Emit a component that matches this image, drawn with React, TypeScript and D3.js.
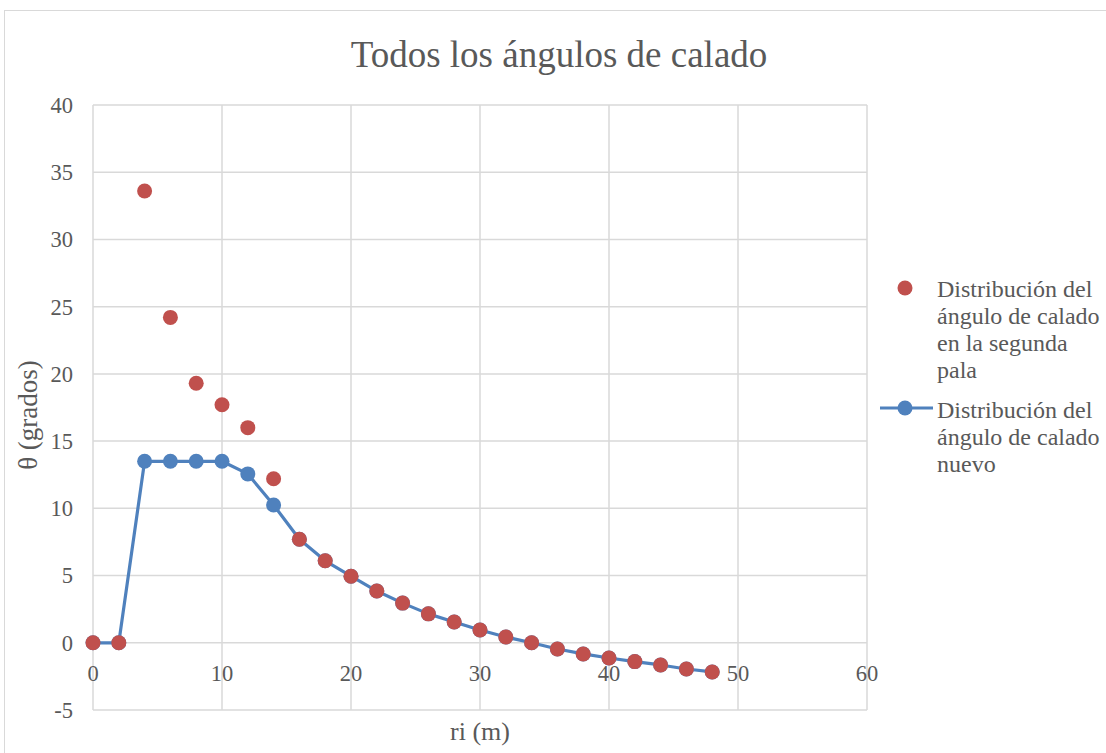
import React, { useEffect, useRef } from "react";
import * as d3 from "d3";

const riValues = [0, 2, 4, 6, 8, 10, 12, 14, 16, 18, 20, 22, 24, 26, 28, 30, 32, 34, 36, 38, 40, 42, 44, 46, 48];
const segundaPala = [0, 0, 33.6, 24.2, 19.3, 17.7, 16.0, 12.2, 7.7, 6.1, 4.95, 3.85, 2.95, 2.15, 1.55, 0.95, 0.43, 0.0, -0.46, -0.83, -1.13, -1.4, -1.65, -1.95, -2.17];
const nuevo = [0, 0, 13.5, 13.5, 13.5, 13.5, 12.56, 10.25, 7.7, 6.1, 4.95, 3.85, 2.95, 2.15, 1.55, 0.95, 0.43, 0.0, -0.46, -0.83, -1.13, -1.4, -1.65, -1.95, -2.17];
const xTicks = [0, 10, 20, 30, 40, 50, 60];
const yTicks = [-5, 0, 5, 10, 15, 20, 25, 30, 35, 40];
const legendRed = ["Distribución del", "ángulo de calado", "en la segunda", "pala"];
const legendBlue = ["Distribución del", "ángulo de calado", "nuevo"];

const RED = "#C0504D";
const BLUE = "#4F81BD";
const TEXT = "#595959";
const GRID = "#d9d9d9";
const FONT = "\"Liberation Serif\", \"Times New Roman\", \"DejaVu Serif\", serif";

const App = () => {
  const ref = useRef<SVGSVGElement>(null);

  useEffect(() => {
    const svg = d3.select(ref.current);
    svg.selectAll("*").remove();

    const x = d3.scaleLinear().domain([0, 60]).range([93, 867]);
    const y = d3.scaleLinear().domain([-5, 40]).range([710, 105]);

    // chart border
    svg.append("rect")
      .attr("x", 4.5).attr("y", 10.5)
      .attr("width", 1110).attr("height", 760)
      .attr("fill", "#fff").attr("stroke", GRID);

    // gridlines
    svg.append("g").selectAll("line").data(xTicks).join("line")
      .attr("x1", (d) => x(d)).attr("x2", (d) => x(d))
      .attr("y1", y(40)).attr("y2", y(-5))
      .attr("stroke", GRID).attr("stroke-width", 1.5);
    svg.append("g").selectAll("line").data(yTicks).join("line")
      .attr("x1", x(0)).attr("x2", x(60))
      .attr("y1", (d) => y(d)).attr("y2", (d) => y(d))
      .attr("stroke", GRID).attr("stroke-width", 1.5);

    const txt = svg.append("g").style("font-family", FONT).attr("fill", TEXT);

    // tick labels
    txt.append("g").selectAll("text").data(yTicks).join("text")
      .attr("x", 73).attr("y", (d) => y(d))
      .attr("dy", "0.35em")
      .attr("text-anchor", "end")
      .attr("font-size", 22.5)
      .text((d) => d);
    txt.append("g").selectAll("text").data(xTicks).join("text")
      .attr("x", (d) => x(d)).attr("y", y(0) + 30)
      .attr("dy", "0.35em")
      .attr("text-anchor", "middle")
      .attr("font-size", 22.5)
      .text((d) => d);

    // title and axis titles
    txt.append("text")
      .attr("x", 559).attr("y", 67)
      .attr("text-anchor", "middle")
      .attr("font-size", 37)
      .text("Todos los ángulos de calado");
    txt.append("text")
      .attr("x", 480).attr("y", 740)
      .attr("text-anchor", "middle")
      .attr("font-size", 26)
      .text("ri (m)");
    txt.append("text")
      .attr("transform", "translate(37,415) rotate(-90)")
      .attr("text-anchor", "middle")
      .attr("font-size", 27)
      .text("θ (grados)");

    // blue series line + markers
    const pts = riValues.map((r, i) => [r, nuevo[i]] as [number, number]);
    const line = d3.line<[number, number]>().x((d) => x(d[0])).y((d) => y(d[1]));
    svg.append("path")
      .datum(pts)
      .attr("d", line)
      .attr("fill", "none")
      .attr("stroke", BLUE)
      .attr("stroke-width", 3.2)
      .attr("stroke-linejoin", "round");
    svg.append("g").selectAll("circle").data(pts).join("circle")
      .attr("cx", (d) => x(d[0])).attr("cy", (d) => y(d[1]))
      .attr("r", 7.5).attr("fill", BLUE);

    // red series markers on top
    svg.append("g").selectAll("circle").data(riValues).join("circle")
      .attr("cx", (d) => x(d)).attr("cy", (d, i) => y(segundaPala[i]))
      .attr("r", 7.5).attr("fill", RED);

    // legend
    const lg = svg.append("g").style("font-family", FONT).attr("font-size", 24).attr("fill", TEXT);
    lg.append("circle").attr("cx", 905).attr("cy", 288).attr("r", 7.5).attr("fill", RED);
    lg.selectAll("text.r").data(legendRed).join("text")
      .attr("class", "r")
      .attr("x", 937).attr("y", (d, i) => 297 + i * 27)
      .text((d) => d);
    lg.append("line").attr("x1", 880).attr("x2", 933).attr("y1", 408).attr("y2", 408)
      .attr("stroke", BLUE).attr("stroke-width", 3.2);
    lg.append("circle").attr("cx", 905).attr("cy", 408).attr("r", 7.5).attr("fill", BLUE);
    lg.selectAll("text.b").data(legendBlue).join("text")
      .attr("class", "b")
      .attr("x", 937).attr("y", (d, i) => 418 + i * 27)
      .text((d) => d);
  }, []);

  return (
    <svg
      ref={ref}
      width={1106}
      height={753}
      style={{ position: "absolute", left: 0, top: 0, background: "#fff" }}
    ></svg>
  );
};

export default App;
